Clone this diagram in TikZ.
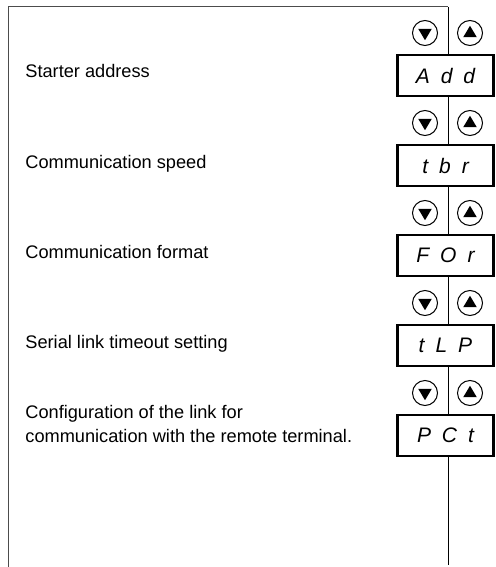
\documentclass[tikz,border=0pt]{standalone}
\usepackage{fontspec}
\setmainfont{Liberation Sans}
\newcommand{\segtxt}[3]{#1\hspace{5.5pt}#2\hspace{5.5pt}#3}
\tikzset{
  frame/.style={line width=0.5pt},
  display/.style={draw, line width=1.2pt, fill=white, minimum width=48pt,
    minimum height=20.5pt, inner sep=0pt, font=\itshape\fontsize{10.5}{12}\selectfont},
  desc/.style={anchor=base west, inner sep=0pt, align=left,
    font=\fontsize{9.1}{12}\selectfont},
  key/.style={circle, draw, line width=0.5pt, fill=white, minimum size=12.5pt, inner sep=0pt},
}
\begin{document}
\begin{tikzpicture}[x=0.5pt,y=-0.5pt]
        \useasboundingbox (0,0) rectangle (495,567);
        % Frame
        \coordinate (top) at (448,7);
        \coordinate (bot) at (448,565);
        \draw[frame, gray!60!black] (8,567) -- (8,7) -- (top);

        % Displays
        \node[display] (add) at (445.5,75.5) {\segtxt{A}{d}{d}};
        \node[display] (tbr) at (445.5,165.5) {\segtxt{t}{b}{r}};
        \node[display] (for) at (445.5,255.5) {\segtxt{F}{O}{r}};
        \node[display] (tlp) at (445.5,345.5) {\segtxt{t}{L}{P}};
        \node[display] (pct) at (445.5,435.5) {\segtxt{P}{C}{t}};

        % Vertical line between the displays
        \draw[frame] (top) -- (top |- add.north);
        \foreach \a/\b in {add/tbr, tbr/for, for/tlp, tlp/pct}
            \draw[frame] (top |- \a.south) -- (top |- \b.north);
        \draw[frame] (top |- pct.south) -- (bot);

        % Keys
        \foreach \y/\n in {33/1, 123/2, 213/3, 303/4, 393/5} {
            \node[key] (dn\n) at (425,\y) {};
            \node[key] (up\n) at (470,\y) {};
            \fill ([shift={(-3.4pt,2.1pt)}]dn\n.center) -- ([shift={(3.4pt,2.1pt)}]dn\n.center)
                -- ([shift={(0pt,-3.6pt)}]dn\n.center) -- cycle;
            \fill ([shift={(-3.4pt,-2.1pt)}]up\n.center) -- ([shift={(3.4pt,-2.1pt)}]up\n.center)
                -- ([shift={(0pt,3.6pt)}]up\n.center) -- cycle;
        }

        % Descriptions
        \node[desc] (t1) at (25,78) {Starter address};
        \node[desc] (t2) at (25,168) {Communication speed};
        \node[desc] (t3) at (25,258) {Communication format};
        \node[desc] (t4) at (25,348) {Serial link timeout setting};
        \node[desc] (t5) at (25,442) {Configuration of the link for\\communication with the remote terminal.};
    \end{tikzpicture}
\end{document}
